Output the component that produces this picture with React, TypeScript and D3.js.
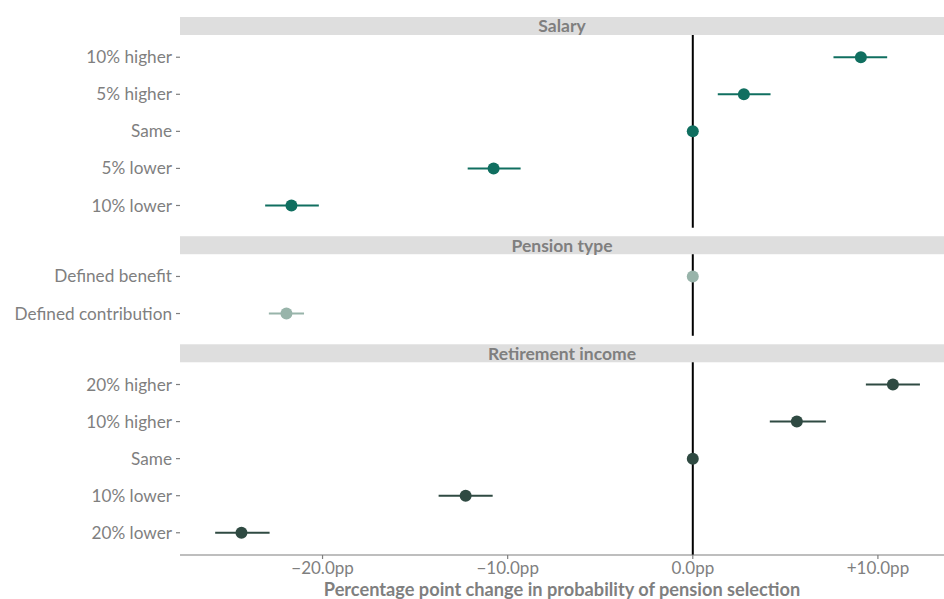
import * as d3 from "d3";

type Row = { facet: string; level: string; est: number; lo: number; hi: number };

const facets = ["Salary", "Pension type", "Retirement income"];
const facetColors = ["#106f60", "#98b4aa", "#2f4a42"];

const salaryLevels = ["10% higher", "5% higher", "Same", "5% lower", "10% lower"];
const salaryEst = [9.08, 2.76, 0, -10.76, -21.68];
const salaryLo = [7.6, 1.35, 0, -12.16, -23.1];
const salaryHi = [10.5, 4.2, 0, -9.3, -20.2];

const pensionLevels = ["Defined benefit", "Defined contribution"];
const pensionEst = [0, -21.95];
const pensionLo = [0, -22.9];
const pensionHi = [0, -21.0];

const incomeLevels = ["20% higher", "10% higher", "Same", "10% lower", "20% lower"];
const incomeEst = [10.81, 5.62, 0, -12.27, -24.38];
const incomeLo = [9.35, 4.16, 0, -13.73, -25.8];
const incomeHi = [12.27, 7.19, 0, -10.81, -22.86];

const xTicks = [-20, -10, 0, 10];
const xDomain: [number, number] = [-27.7, 13.57];

const levelsByFacet = [salaryLevels, pensionLevels, incomeLevels];
const rows: Row[][] = [
  salaryLevels.map((l, i) => ({ facet: facets[0], level: l, est: salaryEst[i], lo: salaryLo[i], hi: salaryHi[i] })),
  pensionLevels.map((l, i) => ({ facet: facets[1], level: l, est: pensionEst[i], lo: pensionLo[i], hi: pensionHi[i] })),
  incomeLevels.map((l, i) => ({ facet: facets[2], level: l, est: incomeEst[i], lo: incomeLo[i], hi: incomeHi[i] })),
];

const W = 944;
const H = 599;
const left = 180;
const right = 944;
const top = 17;
const stripH = 18;
const gap = 8.5;
const bottom = 555;
const font = "Lato, 'Source Sans Pro', sans-serif";
const grey = "#7f7f7f";

export default function App() {
  const x = d3.scaleLinear().domain(xDomain).range([left, right]);
  const units = levelsByFacet.map(l => l.length - 1 + 1.2);
  const totalUnits = d3.sum(units);
  const avail = bottom - top - facets.length * stripH - (facets.length - 1) * gap;
  const unitPx = avail / totalUnits;

  let cursor = top;
  const panels = facets.map((f, i) => {
    const stripY = cursor;
    const pTop = stripY + stripH;
    const pH = units[i] * unitPx;
    cursor = pTop + pH + gap;
    const y = d3.scalePoint<string>().domain(levelsByFacet[i]).range([pTop, pTop + pH]).padding(0.6);
    return { f, i, stripY, pTop, pH, y };
  });

  return (
    <div style={{ position: "absolute", left: 0, top: 0 }}>
      <svg width={W} height={H} style={{ display: "block", fontFamily: font }}>
        {panels.map(p => (
          <g key={p.f}>
            <rect x={left} y={p.stripY} width={right - left} height={stripH} fill="#dedede" />
            <text x={(left + right) / 2} y={p.stripY + stripH / 2} dy="0.36em" textAnchor="middle"
                  fontSize={17.5} fontWeight="bold" fill={grey}>{p.f}</text>
            <line x1={x(0)} x2={x(0)} y1={p.pTop} y2={p.pTop + p.pH} stroke="#000" strokeWidth={2} />
            {levelsByFacet[p.i].map(l => (
              <g key={l} transform={`translate(0,${p.y(l)})`}>
                <line x1={left - 4} x2={left} stroke={grey} strokeWidth={1.2} />
                <text x={left - 8} dy="0.35em" textAnchor="end" fontSize={17.2} fill={grey}>{l}</text>
              </g>
            ))}
            {rows[p.i].map(r => (
              <g key={r.level}>
                <line x1={x(r.lo)} x2={x(r.hi)} y1={p.y(r.level)} y2={p.y(r.level)}
                      stroke={facetColors[p.i]} strokeWidth={2} />
                <circle cx={x(r.est)} cy={p.y(r.level)} r={6} fill={facetColors[p.i]} />
              </g>
            ))}
          </g>
        ))}
        <line x1={left} x2={right} y1={bottom} y2={bottom} stroke={grey} strokeWidth={1.2} />
        {xTicks.map(t => (
          <g key={t} transform={`translate(${x(t)},${bottom})`}>
            <line y2={4} stroke={grey} strokeWidth={1.2} />
            <text y={19} textAnchor="middle" fontSize={17} fill={grey}>
              {(t > 0 ? "+" : t < 0 ? "\u2212" : "") + Math.abs(t).toFixed(1) + "pp"}
            </text>
          </g>
        ))}
        <text x={(left + right) / 2} y={596} textAnchor="middle" fontSize={18.2} fontWeight="bold" fill={grey}>
          Percentage point change in probability of pension selection
        </text>
      </svg>
    </div>
  );
}
